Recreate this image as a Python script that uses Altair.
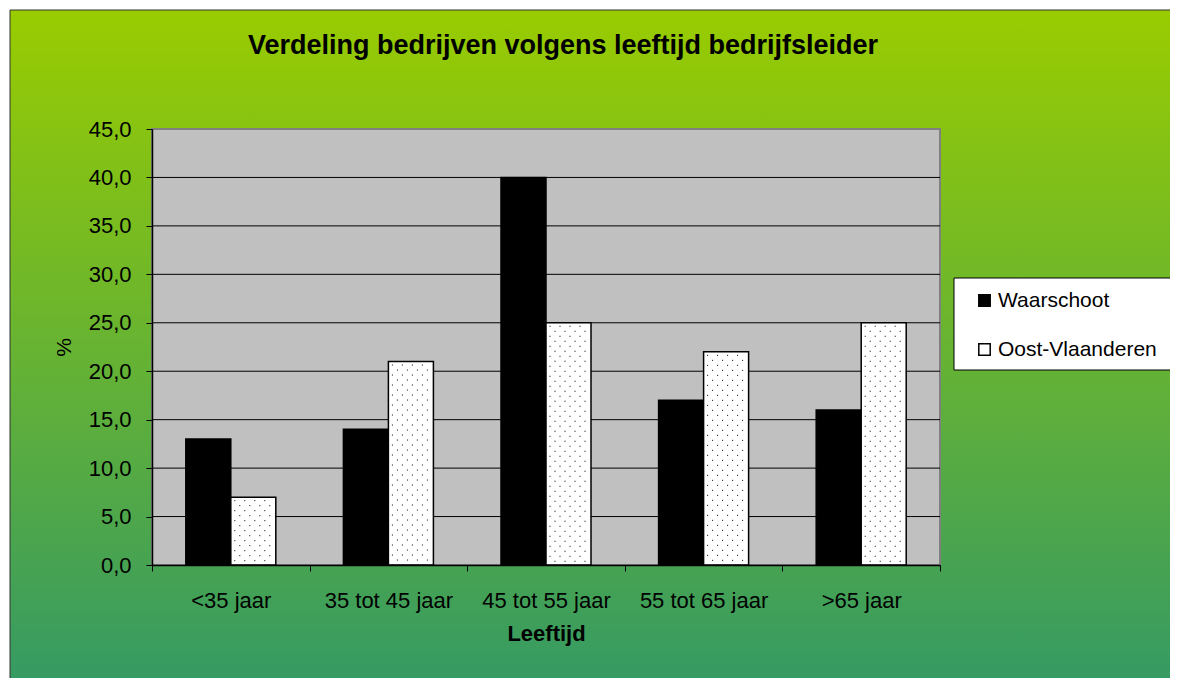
import altair as alt
import pandas as pd

# ---- data ----
categories = ["<35 jaar", "35 tot 45 jaar", "45 tot 55 jaar", "55 tot 65 jaar", ">65 jaar"]
series = ["Waarschoot", "Oost-Vlaanderen"]
waarschoot = [13, 14, 40, 17, 16]
oost_vlaanderen = [7, 21, 25, 22, 25]
y_ticks = [0, 5, 10, 15, 20, 25, 30, 35, 40, 45]
grid_values = [5, 10, 15, 20, 25, 30, 35, 40]
title_text = "Verdeling bedrijven volgens leeftijd bedrijfsleider"

W, H = 788, 436
FONT = "Liberation Sans"

rows = []
for c, w, o in zip(categories, waarschoot, oost_vlaanderen):
    rows.append({"cat": c, "series": "Waarschoot", "value": w})
    rows.append({"cat": c, "series": "Oost-Vlaanderen", "value": o})
df = pd.DataFrame(rows)
ov_df = pd.DataFrame({"cat": categories, "value": oost_vlaanderen})
grid_df = pd.DataFrame({"g": grid_values})

x_scale = alt.Scale(domain=categories, paddingInner=0, paddingOuter=0)
y_scale = alt.Scale(domain=[0, 45], nice=False, zero=True)

x_axis = alt.Axis(
    labelAngle=0, labelFont=FONT, labelFontSize=22, labelColor="black", labelPadding=19,
    tickBand="extent", tickColor="black", tickSize=6, tickWidth=1,
    domainColor="black", domainWidth=1.5, grid=False,
    titleFont=FONT, titleFontSize=22, titleFontWeight="bold", titleColor="black", titlePadding=12,
    zindex=1,
)
y_axis = alt.Axis(
    values=y_ticks, labelExpr="replace(format(datum.value, '.1f'), '.', ',')",
    labelFont=FONT, labelFontSize=22, labelColor="black", labelPadding=15,
    tickColor="black", tickSize=6, tickWidth=1,
    domainColor="black", domainWidth=1.5, grid=False,
    titleFont=FONT, titleFontSize=21, titleFontWeight="normal", titleColor="black", titlePadding=14,
    zindex=1,
)

gradient = {
    "gradient": "linear", "x1": 0, "y1": 0, "x2": 0, "y2": 1,
    "stops": [{"offset": 0, "color": "#99CC00"}, {"offset": 1, "color": "#339966"}],
}

one = alt.Data(values=[{"k": 1}])

bg = alt.Chart(one).mark_rect(fill=gradient, stroke="#333333", strokeWidth=1).encode(
    x=alt.value(-142), x2=alt.value(1040), y=alt.value(-119), y2=alt.value(570)
)

plot_bg = alt.Chart(one).mark_rect(fill="#C0C0C0", stroke="#808080", strokeWidth=2).encode(
    x=alt.value(0), x2=alt.value(W), y=alt.value(0), y2=alt.value(H)
)

grid = alt.Chart(grid_df).mark_rule(color="black", strokeWidth=1).encode(
    y=alt.Y("g:Q", scale=y_scale, axis=y_axis, title="%"),
    x=alt.value(0), x2=alt.value(W),
)

bars = alt.Chart(df).mark_bar(stroke="black", strokeWidth=1.5).encode(
    x=alt.X("cat:N", sort=categories, scale=x_scale, axis=x_axis, title="Leeftijd"),
    xOffset=alt.XOffset("series:N", sort=series,
                        scale=alt.Scale(domain=series, paddingInner=0, paddingOuter=0.751)),
    y=alt.Y("value:Q", scale=y_scale, axis=y_axis, title="%"),
    color=alt.Color(
        "series:N", sort=series,
        scale=alt.Scale(domain=series, range=["black", "white"]),
        legend=alt.Legend(
            title=None, orient="none", legendX=822, legendY=161, padding=0,
            symbolType="square", symbolSize=130, symbolStrokeColor="black", symbolStrokeWidth=1.5,
            labelFont=FONT, labelFontSize=21, labelColor="black", labelOffset=3,
            rowPadding=27, zindex=1,
        ),
    ),
)

dot_layers = []
for k, off in [(4, 7), (14, 7), (24, 7), (34, 7), (9, 2), (19, 2), (29, 2), (39, 2)]:
    dot_layers.append(
        alt.Chart(ov_df).mark_rule(
            color="black", strokeWidth=1, strokeDash=[1, 9], strokeDashOffset=off, xOffset=k
        ).encode(
            x=alt.X("cat:N", sort=categories, scale=x_scale, axis=x_axis, title="Leeftijd"),
            y=alt.Y("value:Q", scale=y_scale, axis=y_axis, title="%"),
            y2=alt.datum(0),
        )
    )

legend_box = alt.Chart(one).mark_rect(fill="white", stroke="black", strokeWidth=1).encode(
    x=alt.value(802), x2=alt.value(1040), y=alt.value(149), y2=alt.value(241)
)

chart = alt.layer(bg, plot_bg, grid, bars, *dot_layers, legend_box).properties(
    width=W, height=H,
    autosize="none",
    padding={"left": 144, "top": 121, "right": 230, "bottom": 113},
    title=alt.TitleParams(
        title_text, font=FONT, fontSize=27, fontWeight="bold", color="black",
        anchor="middle", dx=17, offset=-50, zindex=1,
    ),
).configure_view(strokeWidth=0).configure(background="white")

chart.save("out.html", embed_options={"renderer": "svg", "actions": False})
